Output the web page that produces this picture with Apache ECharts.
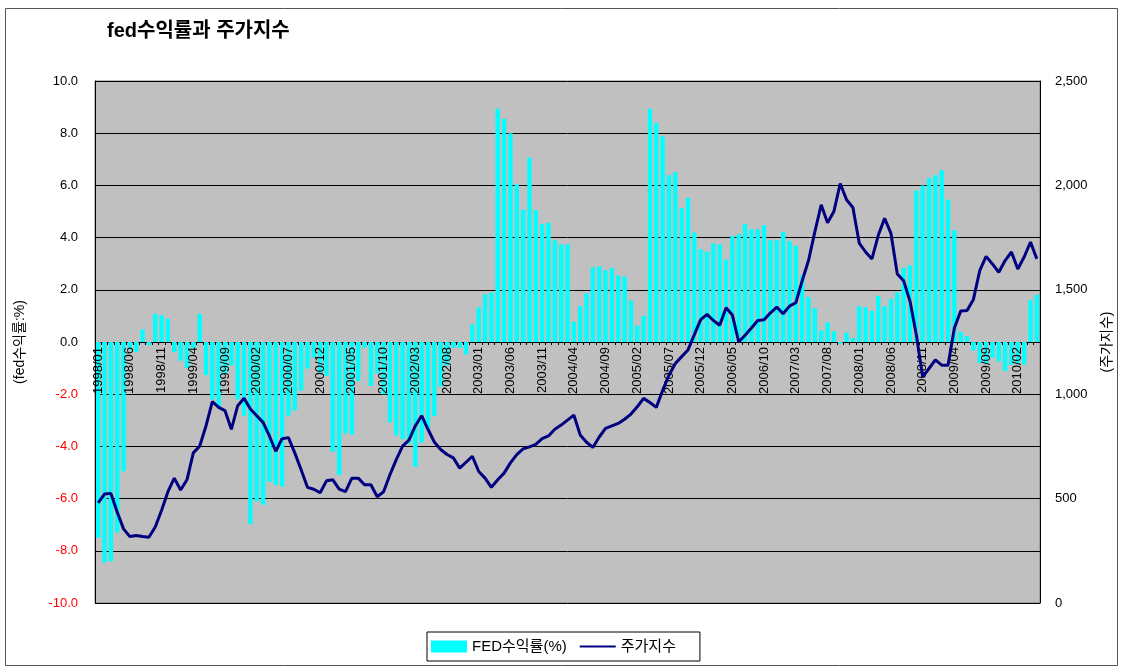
<!DOCTYPE html>
<html>
<head>
<meta charset="utf-8">
<title>fed수익률과 주가지수</title>
<script src="https://cdn.jsdelivr.net/npm/echarts@6/dist/echarts.min.js"></script>
<style>
  html, body { margin: 0; padding: 0; background: #fff; }
  #chart { width: 1122px; height: 666px; }
</style>
</head>
<body>
<div id="chart"></div>
<script>
// monthly categories 1998/01 .. 2010/05
const startYear = 1998, startMonth = 1, monthCount = 149;
const months = [];
for (let k = 0; k < monthCount; k++) {
  const m = startMonth - 1 + k;
  const y = startYear + Math.floor(m / 12);
  const mm = (m % 12) + 1;
  months.push(y + '/' + (mm < 10 ? '0' + mm : mm));
}

// FED수익률(%) - bars, left axis
const fedYield = [
  -7.5, -8.45, -8.4, -7.3, -4.95, -0.3, -0.38, 0.48, -0.13, 1.08, 1.02, 0.89,
  -0.38, -0.72, -1.0, -0.25, 1.08, -1.27, -2.2, -2.5, -1.2, -0.9, -2.2, -2.82,
  -6.97, -6.1, -6.24, -5.35, -5.48, -5.54, -2.82, -2.62, -1.86, -1.02, -0.6, -1.2,
  -1.3, -4.2, -5.1, -3.5, -3.55, -1.5, -0.22, -1.68, -1.2, -2.0, -3.08, -3.58,
  -3.72, -3.9, -4.78, -3.85, -3.4, -2.84, -1.7, -0.9, -0.22, -0.23, -0.47, 0.68,
  1.33, 1.83, 1.9, 8.94, 8.55, 8.0, 6.03, 5.07, 7.07, 5.06, 4.52, 4.57,
  3.9, 3.74, 3.74, 0.77, 1.38, 1.87, 2.86, 2.9, 2.75, 2.84, 2.55, 2.5,
  1.59, 0.63, 1.0, 8.94, 8.39, 7.87, 6.39, 6.5, 5.12, 5.52, 4.19, 3.55,
  3.46, 3.78, 3.74, 3.16, 4.06, 4.13, 4.52, 4.32, 4.32, 4.48, 3.9, 3.9,
  4.22, 3.87, 3.69, 2.55, 1.72, 1.29, 0.45, 0.75, 0.41, -0.06, 0.36, 0.15,
  1.37, 1.33, 1.19, 1.77, 1.37, 1.65, 1.9, 2.84, 2.94, 5.8, 6.0, 6.28,
  6.39, 6.58, 5.46, 4.28, 0.39, 0.23, -0.32, -0.8, -0.85, -0.6, -0.75, -1.12,
  -0.88, -0.82, -0.86, 1.61, 1.81
];

// 주가지수 - line, right axis
const stockIndex = [
  480, 522, 525, 436, 355, 318, 323, 318, 315, 364, 444, 533,
  598, 541, 590, 719, 751, 848, 965, 937, 921, 832, 945, 981,
  929, 897, 865, 800, 727, 787, 792, 719, 638, 554, 545, 528,
  585, 590, 545, 533, 598, 598, 566, 566, 509, 533, 614, 687,
  751, 780, 848, 897, 832, 771, 735, 711, 695, 646, 674, 703,
  630, 598, 554, 590, 622, 671, 711, 738, 748, 760, 787, 800,
  832, 852, 876, 900, 805, 770, 745, 795, 836, 848, 860, 880,
  905, 940, 980, 960, 937, 1018, 1091, 1147, 1180, 1212, 1285, 1357,
  1382, 1353, 1330, 1414, 1379, 1250, 1282, 1317, 1353, 1357, 1390, 1417,
  1385, 1422, 1438, 1543, 1640, 1778, 1907, 1821, 1875, 2009, 1931, 1894,
  1724, 1681, 1648, 1761, 1842, 1770, 1576, 1543, 1446, 1285, 1083, 1123,
  1164, 1139, 1139, 1317, 1398, 1401, 1454, 1592, 1660, 1624, 1584, 1640,
  1681, 1600, 1657, 1729, 1648
];

const fontMain = "'Liberation Sans', 'Noto Sans CJK KR', sans-serif";

const chart = echarts.init(document.getElementById('chart'));
const option = {
  animation: false,
  backgroundColor: '#fff',
  textStyle: { fontFamily: fontMain },
  title: {
    text: 'fed수익률과 주가지수',
    left: 102,
    top: 16,
    textStyle: { fontSize: 20, fontWeight: 'bold', color: '#000', fontFamily: fontMain }
  },
  graphic: [{
    type: 'rect',
    shape: { x: 5.5, y: 8.5, width: 1112, height: 657 },
    style: { fill: 'none', stroke: '#555', lineWidth: 1 },
    silent: true
  }],
  legend: {
    left: 427,
    top: 632,
    backgroundColor: '#fff',
    borderColor: '#000',
    borderWidth: 1,
    padding: [7, 24, 7, 4],
    itemWidth: 36,
    itemHeight: 12,
    itemGap: 12,
    textStyle: { fontSize: 15, color: '#000' },
    data: [
      { name: 'FED수익률(%)', icon: 'rect' },
      { name: '주가지수', itemStyle: { opacity: 0 } }
    ]
  },
  grid: {
    left: 95, right: 82, top: 81, bottom: 63,
    show: true,
    backgroundColor: '#C0C0C0',
    borderColor: '#808080',
    borderWidth: 1
  },
  xAxis: {
    type: 'category',
    data: months,
    boundaryGap: true,
    position: 'bottom',
    offset: -261,   // sits on the 0.0 line of the left axis
    z: 3,
    axisLine: { show: false, onZero: false },
    axisTick: { show: true, interval: 0, length: 3, lineStyle: { color: '#000' } },
    axisLabel: { interval: 4, rotate: 90, fontSize: 13, color: '#000', margin: 5 },
    splitLine: { show: false }
  },
  yAxis: [
    {
      type: 'value',
      min: -10, max: 10, interval: 2,
      position: 'left',
      name: '(fed수익률:%)',
      nameLocation: 'middle',
      nameRotate: 90,
      nameGap: 68,
      nameTextStyle: { fontSize: 14, color: '#000' },
      axisLine: { show: true, lineStyle: { color: '#000' } },
      axisTick: { show: true, inside: true, length: 4, lineStyle: { color: '#000' } },
      axisLabel: {
        fontSize: 13,
        margin: 17,
        formatter: v => v.toFixed(1),
        color: v => (v < 0 ? '#FF0000' : '#000')
      },
      splitLine: { show: true, lineStyle: { color: '#000', width: 1 } }
    },
    {
      type: 'value',
      min: 0, max: 2500, interval: 500,
      position: 'right',
      name: '(주가지수)',
      nameLocation: 'middle',
      nameRotate: 90,
      nameGap: 60,
      nameTextStyle: { fontSize: 14, color: '#000' },
      axisLine: { show: true, lineStyle: { color: '#000' } },
      axisTick: { show: true, inside: true, length: 4, lineStyle: { color: '#000' } },
      axisLabel: {
        fontSize: 13,
        margin: 15,
        color: '#000',
        formatter: v => v.toLocaleString('en-US')
      },
      splitLine: { show: false }
    }
  ],
  series: [
    {
      name: 'FED수익률(%)',
      type: 'bar',
      data: fedYield,
      barCategoryGap: '32%',
      itemStyle: { color: '#00FFFF' }
    },
    {
      name: '주가지수',
      type: 'line',
      yAxisIndex: 1,
      data: stockIndex,
      symbol: 'none',
      smooth: false,
      lineStyle: { color: '#000080', width: 3 },
      itemStyle: { color: '#000080' },
      z: 5
    }
  ]
};
chart.setOption(option);
</script>
</body>
</html>
